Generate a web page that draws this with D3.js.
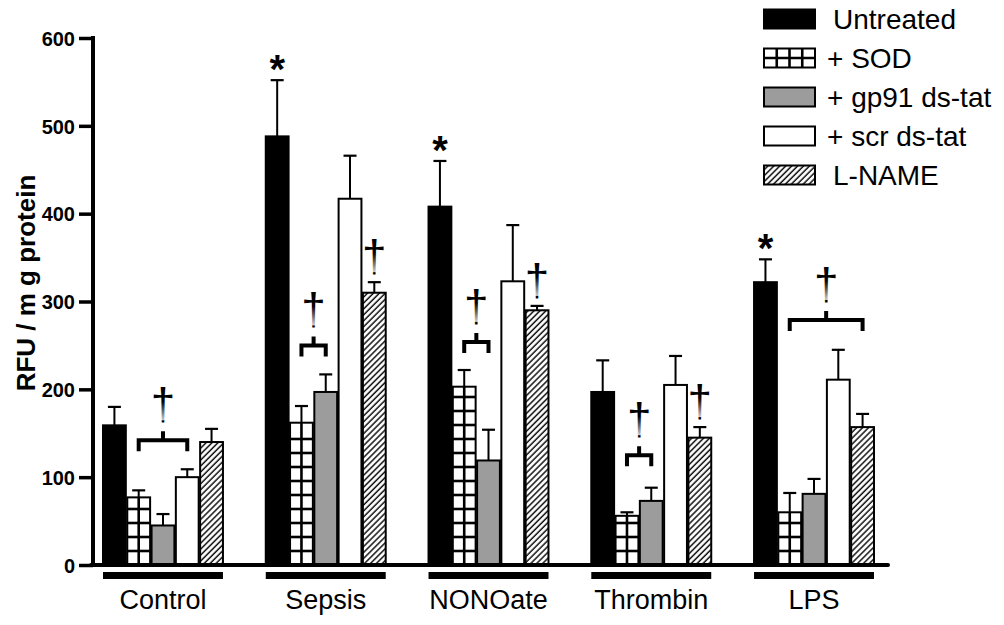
<!DOCTYPE html>
<html><head><meta charset="utf-8">
<script src="https://cdn.jsdelivr.net/npm/d3@7"></script>
<style>body{margin:0;background:#fff} svg{display:block} text{font-family:"Liberation Sans",Arial,sans-serif} .dag{opacity:0.99}</style>
</head><body><svg id="c" width="1004" height="625"></svg>
<script>
// ---------- data ----------
const categories = ["Control", "Sepsis", "NONOate", "Thrombin", "LPS"];
const series = ["Untreated", "+ SOD", "+ gp91 ds-tat", "+ scr ds-tat", "L-NAME"];
const untreated    = [159, 488, 408, 197, 322];
const untreatedErr = [21, 64, 52, 36, 26];
const sod          = [77, 162, 203, 56, 60];
const sodErr       = [8, 19, 19, 4, 22];
const gp91         = [45, 197, 119, 73, 81];
const gp91Err      = [13, 20, 35, 15, 17];
const scr          = [100, 417, 323, 205, 211];
const scrErr       = [9, 49, 64, 33, 34];
const lname        = [140, 310, 290, 145, 157];
const lnameErr     = [15, 12, 5, 12, 15];
const yTicks = [0, 100, 200, 300, 400, 500, 600];
const yLabel = "RFU / m g protein";
// significance annotations
const asteriskGroups = ["Sepsis", "NONOate", "LPS"];            // * over Untreated
const bracketGroups  = ["Control", "Sepsis", "NONOate", "Thrombin", "LPS"];
const bracketFrom    = ["+ SOD", "+ SOD", "+ SOD", "+ SOD", "+ SOD"];
const bracketTo      = ["+ scr ds-tat", "+ gp91 ds-tat", "+ gp91 ds-tat", "+ gp91 ds-tat", "L-NAME"];
const bracketLevel   = [142, 250, 254, 125, 279];
const daggerLNAME    = ["Sepsis", "NONOate", "Thrombin"];       // † over L-NAME

const values = [untreated, sod, gp91, scr, lname];
const errors = [untreatedErr, sodErr, gp91Err, scrErr, lnameErr];

// ---------- setup ----------
const svg = d3.select("#c");
const defs = svg.append("defs");
const hatch = defs.append("pattern").attr("id", "hatch").attr("patternUnits", "userSpaceOnUse")
  .attr("width", 4.2).attr("height", 4.2).attr("patternTransform", "rotate(45)");
hatch.append("rect").attr("width", 4.2).attr("height", 4.2).attr("fill", "#fff");
hatch.append("line").attr("x1", 1).attr("x2", 1).attr("y1", 0).attr("y2", 4.2)
  .attr("stroke", "#111").attr("stroke-width", 1.5);
const grad = defs.append("linearGradient").attr("id", "dagfade").attr("x1", 0).attr("x2", 0).attr("y1", 0).attr("y2", 1);
grad.append("stop").attr("offset", "0").attr("stop-color", "#fff").attr("stop-opacity", 0);
grad.append("stop").attr("offset", "1").attr("stop-color", "#fff").attr("stop-opacity", 0.8);

const y = d3.scaleLinear().domain([0, 600]).range([565, 38]);
const x0 = d3.scaleBand().domain(categories).range([103, 874]).paddingInner(0.263);
const x1 = d3.scaleBand().domain(series).range([0, x0.bandwidth()]).paddingInner(0.06);

const fills = ["#000", "#fff", "#9c9c9c", "#fff", "url(#hatch)"];

// ---------- bars ----------
const barData = [];
categories.forEach((c, gi) => series.forEach((s, si) => {
  barData.push({c, s, si, v: values[si][gi], e: errors[si][gi]});
}));

const g = svg.append("g");
const eb = g.selectAll(".eb").data(barData).join("g");
eb.append("line")
  .attr("x1", d => x0(d.c) + x1(d.s) + x1.bandwidth() / 2)
  .attr("x2", d => x0(d.c) + x1(d.s) + x1.bandwidth() / 2)
  .attr("y1", d => y(d.v)).attr("y2", d => y(d.v + d.e))
  .attr("stroke", "#000").attr("stroke-width", 2);
eb.append("line")
  .attr("x1", d => x0(d.c) + x1(d.s) + x1.bandwidth() / 2 - 6.5)
  .attr("x2", d => x0(d.c) + x1(d.s) + x1.bandwidth() / 2 + 6.5)
  .attr("y1", d => y(d.v + d.e)).attr("y2", d => y(d.v + d.e))
  .attr("stroke", "#000").attr("stroke-width", 2.2);

g.selectAll(".bar").data(barData).join("rect")
  .attr("x", d => x0(d.c) + x1(d.s))
  .attr("y", d => y(d.v))
  .attr("width", x1.bandwidth())
  .attr("height", d => y(0) - y(d.v))
  .attr("fill", d => fills[d.si])
  .attr("stroke", "#000").attr("stroke-width", 2);

// SOD grid texture
barData.filter(d => d.si === 1).forEach(d => {
  const bx = x0(d.c) + x1(d.s), bw = x1.bandwidth(), top = y(d.v);
  g.append("line").attr("x1", bx + bw / 2).attr("x2", bx + bw / 2)
    .attr("y1", top).attr("y2", y(0)).attr("stroke", "#000").attr("stroke-width", 2.6);
  for (let yy = y(0) - 14; yy > top + 3; yy -= 14) {
    g.append("line").attr("x1", bx).attr("x2", bx + bw).attr("y1", yy).attr("y2", yy)
      .attr("stroke", "#000").attr("stroke-width", 2.6);
  }
});

// ---------- axes ----------
const yAxis = svg.append("g").attr("transform", "translate(93,0)")
  .call(d3.axisLeft(y).tickValues(yTicks).tickSize(14).tickSizeOuter(0).tickPadding(4));
yAxis.select(".domain").attr("stroke-width", 4).attr("d", `M0,${y(600) - 2}V${y(0) + 2}`);
yAxis.selectAll(".tick line").attr("stroke-width", 3.5);
yAxis.selectAll(".tick text").attr("font-size", 20).attr("font-weight", "bold")
  .attr("font-family", "Liberation Sans, Arial, sans-serif").attr("fill", "#000").attr("dy", "0.36em");

svg.append("line").attr("x1", 91).attr("x2", 888).attr("y1", y(0)).attr("y2", y(0))
  .attr("stroke", "#000").attr("stroke-width", 4).attr("stroke-linecap", "round");

svg.selectAll(".ul").data(categories).join("rect")
  .attr("x", d => x0(d)).attr("y", 572).attr("width", x0.bandwidth()).attr("height", 7).attr("fill", "#000");
svg.selectAll(".lab").data(categories).join("text")
  .attr("x", d => x0(d) + x0.bandwidth() / 2).attr("y", 609)
  .attr("text-anchor", "middle").attr("font-size", 27).attr("fill", "#000").text(d => d);

svg.append("text").attr("transform", `translate(35,${283}) rotate(-90)`)
  .attr("text-anchor", "middle").attr("font-size", 26).attr("font-weight", "bold").text(yLabel);

// ---------- annotations ----------
const cx = (c, s) => x0(c) + x1(s) + x1.bandwidth() / 2;
const dagG = svg.append("g").attr("class", "dag");
function dagger(xc, bottom) {
  dagG.append("text").attr("x", xc).attr("y", bottom + 1).attr("text-anchor", "middle")
    .attr("font-family", "DejaVu Serif, serif").attr("font-size", 44)
    .attr("fill", "#000").text("†");
  dagG.append("rect").attr("x", xc - 5).attr("y", bottom - 17).attr("width", 10).attr("height", 19)
    .attr("fill", "url(#dagfade)");
}
asteriskGroups.forEach(c => {
  const gi = categories.indexOf(c);
  svg.append("text").attr("x", cx(c, "Untreated")).attr("y", y(untreated[gi] + untreatedErr[gi]) + 3)
    .attr("text-anchor", "middle").attr("font-size", 40).attr("font-weight", "bold").text("*");
});
bracketGroups.forEach((c, i) => {
  const xa = cx(c, bracketFrom[i]), xb = cx(c, bracketTo[i]), yl = y(bracketLevel[i]);
  svg.append("path").attr("d", `M${xa},${yl + 11}V${yl}H${xb}V${yl + 11}M${(xa + xb) / 2},${yl}V${yl - 9}`)
    .attr("fill", "none").attr("stroke", "#000").attr("stroke-width", 4);
  dagger((xa + xb) / 2, yl - 22);
});
daggerLNAME.forEach(c => {
  const gi = categories.indexOf(c);
  dagger(cx(c, "L-NAME"), y(lname[gi] + lnameErr[gi]) - 12);
});

// ---------- legend ----------
const leg = svg.append("g");
series.forEach((s, i) => {
  const yc = 19 + i * 39;
  leg.append("rect").attr("x", 764).attr("y", yc - 9.5).attr("width", 51).attr("height", 19)
    .attr("fill", fills[i]).attr("stroke", "#000").attr("stroke-width", 2);
  if (i === 1) {
    for (let k = 1; k < 4; k++) leg.append("line").attr("x1", 764 + k * 51 / 4).attr("x2", 764 + k * 51 / 4)
      .attr("y1", yc - 9.5).attr("y2", yc + 9.5).attr("stroke", "#000").attr("stroke-width", 2.6);
    leg.append("line").attr("x1", 764).attr("x2", 815).attr("y1", yc).attr("y2", yc)
      .attr("stroke", "#000").attr("stroke-width", 2.6);
  }
  leg.append("text").attr("x", (i === 0 || i === 4) ? 833 : 827).attr("y", yc + 10)
    .attr("font-size", 28).attr("fill", "#000").text(s);
});
</script></body></html>
